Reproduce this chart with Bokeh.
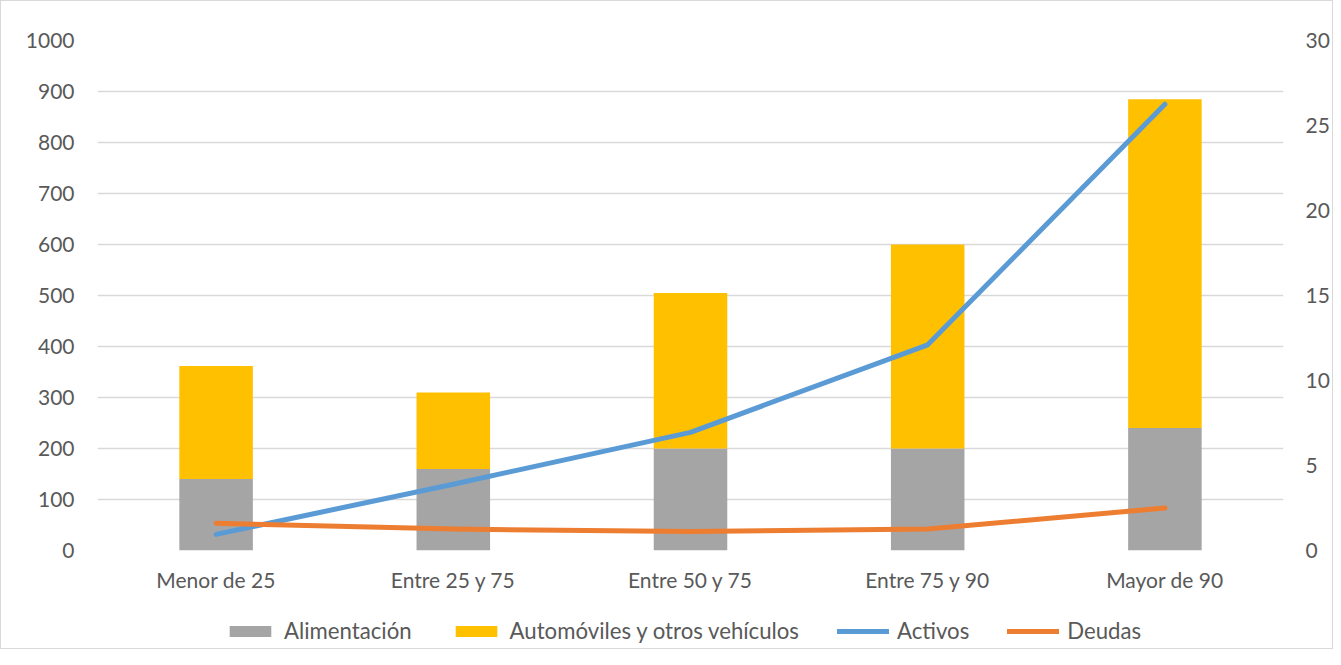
from bokeh.plotting import figure
from bokeh.layouts import column
from bokeh.models import Range1d, LinearAxis, Legend, LegendItem, FixedTicker, FactorRange
from bokeh.embed import file_html
from bokeh.resources import INLINE

categories = ["Menor de 25", "Entre 25 y 75", "Entre 50 y 75", "Entre 75 y 90", "Mayor de 90"]
alimentacion = [140, 160, 200, 200, 240]
automoviles = [222, 150, 305, 400, 645]
activos = [0.95, 3.9, 6.95, 12.1, 26.25]
deudas = [1.6, 1.26, 1.12, 1.26, 2.5]

FONT = "Lato"
FS = "21px"
TXT = "#595959"
GRID = "#d9d9d9"
C_ALI, C_AUT, C_ACT, C_DEU = "#A5A5A5", "#FFC000", "#5B9BD5", "#ED7D31"
LW = 5

p = figure(x_range=FactorRange(*categories, range_padding=0), y_range=Range1d(0, 1000),
           width=1331, height=600, output_backend="svg", toolbar_location=None,
           min_border_left=96, min_border_right=45, min_border_top=39, min_border_bottom=51)
p.extra_y_ranges = {"right": Range1d(0, 30)}
p.outline_line_color = None

src = dict(cat=categories, Alimentacion=alimentacion, Automoviles=automoviles)
bars = p.vbar_stack(["Alimentacion", "Automoviles"], x="cat", width=0.31, source=src,
                    color=[C_ALI, C_AUT], line_color=None)

l1 = p.line(categories, activos, y_range_name="right", line_color=C_ACT, line_width=LW,
            line_cap="round", line_join="round")
l2 = p.line(categories, deudas, y_range_name="right", line_color=C_DEU, line_width=LW,
            line_cap="round", line_join="round")

p.yaxis.ticker = FixedTicker(ticks=list(range(0, 1001, 100)))
ax_r = LinearAxis(y_range_name="right", ticker=FixedTicker(ticks=list(range(0, 31, 5))))
p.add_layout(ax_r, "right")

for ax in [p.xaxis[0], p.yaxis[0], ax_r]:
    ax.axis_line_color = None
    ax.major_tick_line_color = None
    ax.minor_tick_line_color = None
    ax.major_label_text_font = FONT
    ax.major_label_text_font_size = FS
    ax.major_label_text_color = TXT
p.yaxis[0].major_label_standoff = 17
ax_r.major_label_standoff = 16
p.xaxis[0].major_label_standoff = 10

p.xgrid.grid_line_color = None
p.ygrid.grid_line_color = GRID
p.ygrid.grid_line_width = 1.5

# legend strip below the chart: same series drawn out of view, only the legend shows
pl = figure(x_range=p.x_range, y_range=Range1d(5000, 6000), width=1331, height=47,
            output_backend="svg", toolbar_location=None,
            min_border_left=0, min_border_right=0, min_border_top=0, min_border_bottom=0)
pl.axis.visible = False
pl.grid.visible = False
pl.outline_line_color = None
gb = pl.vbar_stack(["Alimentacion", "Automoviles"], x="cat", width=0.31, source=src,
                   color=[C_ALI, C_AUT], line_color=None)
g3 = pl.line(categories, activos, line_color=C_ACT, line_width=LW, line_cap="round")
g4 = pl.line(categories, deudas, line_color=C_DEU, line_width=LW, line_cap="round")

legend = Legend(items=[
    LegendItem(label="Alimentación", renderers=[gb[0]]),
    LegendItem(label="Automóviles y otros vehículos", renderers=[gb[1]]),
    LegendItem(label="Activos", renderers=[g3]),
    LegendItem(label="Deudas", renderers=[g4]),
], orientation="horizontal", location=(127, 4))
legend.label_text_font = FONT
legend.label_text_font_size = "22.2px"
legend.label_text_color = TXT
legend.glyph_width = 52
legend.glyph_height = 14
legend.label_standoff = 8
legend.spacing = 38
legend.border_line_color = None
legend.background_fill_alpha = 0
legend.margin = 0
legend.padding = 0
pl.add_layout(legend, "center")

layout = column(p, pl, spacing=0)
layout.styles = {"border": "1px solid #d9d9d9"}

open("out.html", "w").write(file_html(layout, INLINE))
